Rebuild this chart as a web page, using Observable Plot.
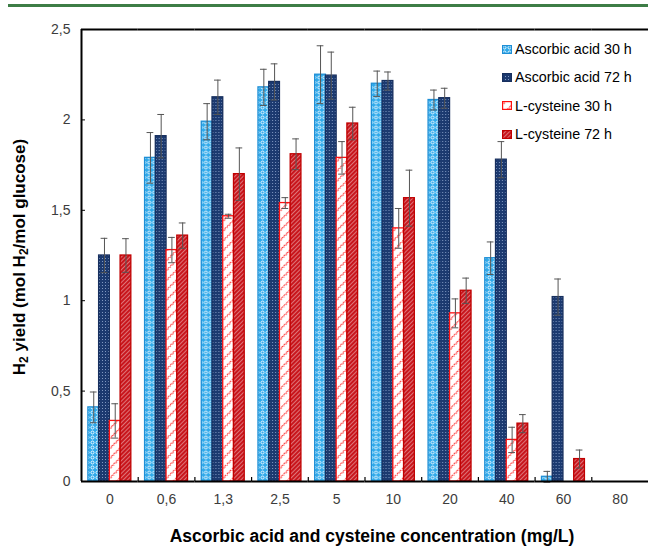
<!DOCTYPE html>
<html>
<head>
<meta charset="utf-8">
<script src="https://cdn.jsdelivr.net/npm/d3@7"></script>
<script src="https://cdn.jsdelivr.net/npm/@observablehq/plot@0.6"></script>
<style>
  html, body { margin: 0; padding: 0; background: #fff; }
  body { width: 648px; height: 546px; overflow: hidden; position: relative; font-family: "Liberation Sans", Arial, sans-serif; }
  #topline { position: absolute; left: 8px; top: 4px; width: 640px; height: 3px; background: #3d7d46; }
  #chart { position: absolute; left: 0; top: 0; }
  #ytitle { position: absolute; left: 20px; top: 257px; transform: translate(-50%, -50%) rotate(-90deg); white-space: nowrap; font-weight: bold; font-size: 17px; color: #000; }
  #ytitle sub { font-size: 12px; vertical-align: -3px; line-height: 0; }
  #xtitle { position: absolute; left: 372px; top: 536px; transform: translate(-50%, -50%); white-space: nowrap; font-weight: bold; font-size: 17.5px; color: #000; }
  #legend { position: absolute; left: 502px; top: 35px; font-size: 14.3px; color: #000; }
  #legend .item { display: flex; align-items: center; height: 28.3px; }
  #legend svg { margin-right: 3px; }
</style>
</head>
<body>
<svg width="0" height="0" style="position:absolute">
  <defs>
    <pattern id="pat0" patternUnits="userSpaceOnUse" width="5" height="5">
      <rect width="5" height="5" fill="#2ea9ea"/>
      <circle cx="2.5" cy="2.5" r="1.5" fill="none" stroke="#ffffff" stroke-width="0.9"/>
    </pattern>
    <pattern id="pat1" patternUnits="userSpaceOnUse" width="3" height="3">
      <rect width="3" height="3" fill="#1c3a70"/>
      <rect width="1" height="1" fill="#8199c2"/>
    </pattern>
    <pattern id="pat2" patternUnits="userSpaceOnUse" width="7" height="7" patternTransform="rotate(-45)">
      <rect width="7" height="7" fill="#ffffff"/>
      <path d="M0,3.5 L2,2 L3.5,3.5 L5,2 L7,3.5" fill="none" stroke="#ff2424" stroke-width="0.9"/>
    </pattern>
    <pattern id="pat3" patternUnits="userSpaceOnUse" width="3" height="3" patternTransform="rotate(45)">
      <rect width="3" height="3" fill="#c8161d"/>
      <line x1="0" y1="0" x2="0" y2="3" stroke="#ffffff" stroke-width="0.8"/>
    </pattern>
  </defs>
</svg>
<div id="topline"></div>
<div id="chart"></div>
<div id="ytitle">H<sub>2</sub> yield (mol H<sub>2</sub>/mol glucose)</div>
<div id="xtitle">Ascorbic acid and cysteine concentration (mg/L)</div>
<div id="legend"></div>
<script>
// ---- data ----
const categories = ["0", "0,6", "1,3", "2,5", "5", "10", "20", "40", "60", "80"];
const series = ["Ascorbic acid 30 h", "Ascorbic acid 72 h", "L-cysteine 30 h", "L-cysteine 72 h"];
const ascorbic30 = [0.41, 1.79, 1.99, 2.18, 2.25, 2.20, 2.11, 1.235, 0.026, 0];
const ascorbic30Err = [0.085, 0.14, 0.10, 0.10, 0.16, 0.07, 0.055, 0.09, 0.03, 0];
const ascorbic72 = [1.25, 1.91, 2.125, 2.21, 2.245, 2.215, 2.12, 1.78, 1.02, 0];
const ascorbic72Err = [0.095, 0.12, 0.095, 0.10, 0.13, 0.05, 0.055, 0.10, 0.10, 0];
const cysteine30 = [0.335, 1.28, 1.467, 1.54, 1.79, 1.40, 0.93, 0.23, 0, 0];
const cysteine30Err = [0.095, 0.07, 0.011, 0.03, 0.09, 0.11, 0.08, 0.07, 0, 0];
const cysteine72 = [1.25, 1.36, 1.70, 1.81, 1.98, 1.567, 1.055, 0.32, 0.124, 0];
const cysteine72Err = [0.093, 0.07, 0.145, 0.085, 0.09, 0.155, 0.07, 0.05, 0.05, 0];
const yTicks = [0, 0.5, 1, 1.5, 2, 2.5];

// ---- styles ----
const fills = ["url(#pat0)", "url(#pat1)", "url(#pat2)", "url(#pat3)"];
const strokes = ["#1e8fd6", "#172f5e", "#ff1010", "#c00000"];

const values = [ascorbic30, ascorbic72, cysteine30, cysteine72];
const errors = [ascorbic30Err, ascorbic72Err, cysteine30Err, cysteine72Err];
const rows = categories.flatMap((cat, i) => series.map((s, j) => ({cat, series: s, value: values[j][i], err: errors[j][i]})));

// ---- layout ----
const W = 648, H = 546, mL = 81, mR = 0, mT = 29, mB = 65;
const facetW = (W - mL - mR) / categories.length;
const xPadOuter = 0.64;
const xStep = facetW / (series.length + 2 * xPadOuter);
const firstCenter = xPadOuter * xStep + xStep / 2; // center of first bar inside a facet

const barMarks = series.map((s, j) => Plot.barY(rows.filter(d => d.series === s && d.value > 0), {
  fx: "cat", x: "series", y: "value", fill: fills[j], stroke: strokes[j], strokeWidth: 1.3
}));
const withErr = rows.filter(d => d.err > 0);
const firstSeriesRows = rows.filter(d => d.series === series[0]);

const chart = Plot.plot({
  width: W, height: H,
  marginLeft: mL, marginRight: mR, marginTop: mT, marginBottom: mB,
  style: {fontFamily: "'Liberation Sans', Arial, sans-serif", fontSize: "14px", color: "#3c3c3c", background: "transparent"},
  fx: {domain: categories, paddingInner: 0, paddingOuter: 0, round: false, label: null, tickSize: 0, tickPadding: 13},
  x: {domain: series, paddingInner: 0, paddingOuter: xPadOuter, round: false, axis: null},
  y: {domain: [0, 2.5], ticks: yTicks, tickFormat: d => String(d).replace(".", ","), label: null, tickSize: 0, tickPadding: 11},
  marks: [
    ...barMarks,
    Plot.ruleX(withErr, {fx: "cat", x: "series", y1: d => d.value - d.err, y2: d => d.value + d.err, stroke: "#555", strokeWidth: 1}),
    Plot.tickY(withErr, {fx: "cat", x: "series", y: d => d.value + d.err, stroke: "#555", strokeWidth: 1, insetLeft: 2, insetRight: 2}),
    Plot.tickY(withErr, {fx: "cat", x: "series", y: d => d.value - d.err, stroke: "#555", strokeWidth: 1, insetLeft: 2, insetRight: 2}),
    // frame lines
    Plot.ruleY([0], {stroke: "#000", strokeWidth: 2}),
    Plot.ruleY([2.5], {stroke: "#000", strokeWidth: 2}),
    Plot.ruleX(firstSeriesRows.filter(d => d.cat === categories[0]), {fx: "cat", x: "series", dx: -firstCenter, y1: 0, y2: 2.5, stroke: "#000", strokeWidth: 2}),
    // inward category boundary ticks
    Plot.ruleX(firstSeriesRows.filter(d => d.cat !== categories[0]), {fx: "cat", x: "series", dx: -firstCenter, y1: 0, y2: 0, insetTop: -4, stroke: "#000", strokeWidth: 1.2}),
    // inward y ticks
    Plot.ruleY(yTicks.slice(1, -1), {fx: () => categories[0], y: d => d, insetRight: facetW - 4, stroke: "#000", strokeWidth: 1})
  ]
});
document.getElementById("chart").appendChild(chart);

// legend
const legend = document.getElementById("legend");
series.forEach((s, j) => {
  const item = document.createElement("div");
  item.className = "item";
  item.innerHTML = `<svg width="10" height="9"><rect x="0.6" y="0.6" width="8.8" height="7.8" fill="${fills[j]}" stroke="${strokes[j]}" stroke-width="1.2"/></svg><span>${s}</span>`;
  legend.appendChild(item);
});
</script>
</body>
</html>
